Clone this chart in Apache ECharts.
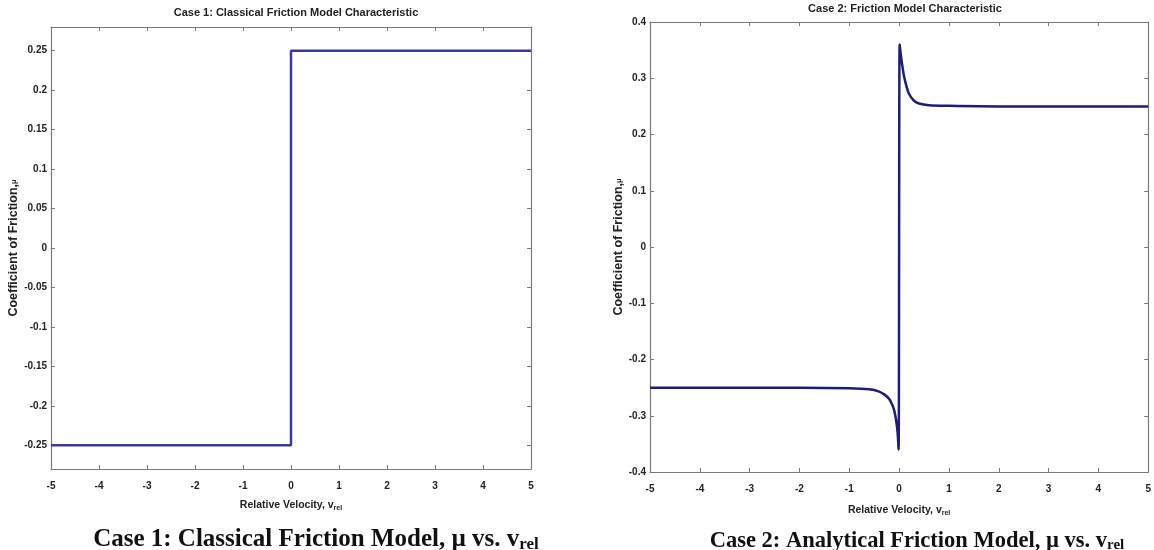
<!DOCTYPE html>
<html>
<head>
<meta charset="utf-8">
<script src="https://cdn.jsdelivr.net/npm/echarts@6/dist/echarts.min.js"></script>
<style>
html, body { margin: 0; padding: 0; background: #fff; }
#chart { width: 1154px; height: 550px; }
</style>
</head>
<body>
<div id="chart"></div>
<script>
// case 1: classical (Coulomb) friction, step at v_rel = 0
const vRel1 = [-5, 0, 0, 5]
const mu1 = [-0.25, -0.25, 0.25, 0.25]

// case 2: analytical friction model
const vRel2 = [-5, -2, -1, -0.6, -0.4, -0.3, -0.2, -0.14, -0.1, -0.06, -0.03, -0.01, 0.01, 0.03, 0.06, 0.1, 0.15, 0.2, 0.3, 0.4, 0.6, 1, 2, 5]
const mu2 = [-0.25, -0.25, -0.251, -0.253, -0.257, -0.262, -0.27, -0.28, -0.29, -0.308, -0.33, -0.36, 0.36, 0.345, 0.325, 0.303, 0.285, 0.272, 0.26, 0.255, 0.252, 0.251, 0.25, 0.25]

const yTicks1 = [-0.25, -0.2, -0.15, -0.1, -0.05, 0, 0.05, 0.1, 0.15, 0.2, 0.25]

const titles = ['Case 1: Classical Friction Model Characteristic', 'Case 2: Friction Model Characteristic']
const captions = ['Case 1: Classical Friction Model, µ vs. v{sub|rel}', 'Case 2: Analytical Friction Model, µ vs. v{sub|rel}']

const FONT = 'Liberation Sans'
const AXIS_COLOR = '#7a7a7a'
const LABEL_COLOR = '#222'

function fmt(v) {
  return String(Math.round(v * 100) / 100)
}

const pairs1 = vRel1.map((v, i) => [v, mu1[i]])
const pairs2 = vRel2.map((v, i) => [v, mu2[i]])

function xAxes(gridIndex, nameGap) {
  return [{
    gridIndex: gridIndex,
    type: 'value',
    min: -5,
    max: 5,
    interval: 1,
    position: 'bottom',
    name: 'Relative Velocity, v{sub|rel}',
    nameLocation: 'middle',
    nameGap: nameGap,
    nameTextStyle: {
      color: LABEL_COLOR,
      fontFamily: FONT,
      fontSize: 10.5,
      fontWeight: 'bold',
      rich: {
        sub: { fontSize: 7, fontWeight: 'bold', fontFamily: FONT, color: LABEL_COLOR, verticalAlign: 'bottom', padding: [6, 0, 0, 0] }
      }
    },
    axisLine: { show: true, onZero: false, lineStyle: { color: AXIS_COLOR, width: 1.2 } },
    axisTick: { show: true, inside: true, length: 4, lineStyle: { color: AXIS_COLOR } },
    axisLabel: { color: LABEL_COLOR, fontFamily: FONT, fontSize: 10, fontWeight: 'bold', margin: 12 },
    splitLine: { show: false }
  }, {
    gridIndex: gridIndex,
    type: 'value',
    min: -5,
    max: 5,
    interval: 1,
    position: 'top',
    axisLine: { show: true, onZero: false, lineStyle: { color: AXIS_COLOR, width: 1.2 } },
    axisTick: { show: true, inside: true, length: 4, lineStyle: { color: AXIS_COLOR } },
    axisLabel: { show: false },
    splitLine: { show: false }
  }]
}

function yAxes(gridIndex, min, max, tickOpts, nameGap) {
  const nameStyle = {
    color: LABEL_COLOR,
    fontFamily: FONT,
    fontSize: 12.5,
    fontWeight: 'bold',
    rich: {
      sub: { fontSize: 8, fontWeight: 'bold', fontFamily: FONT, color: LABEL_COLOR }
    }
  }
  return [Object.assign({
    gridIndex: gridIndex,
    type: 'value',
    min: min,
    max: max,
    position: 'left',
    name: 'Coefficient of Friction,{sub|µ}',
    nameLocation: 'middle',
    nameGap: nameGap,
    nameTextStyle: nameStyle,
    axisLine: { show: true, onZero: false, lineStyle: { color: AXIS_COLOR, width: 1.2 } },
    axisTick: Object.assign({ show: true, inside: true, length: 4, lineStyle: { color: AXIS_COLOR } }, tickOpts.tick),
    axisLabel: Object.assign({ color: LABEL_COLOR, fontFamily: FONT, fontSize: 10, fontWeight: 'bold', margin: 4, formatter: fmt }, tickOpts.label),
    splitLine: { show: false }
  }, tickOpts.axis), Object.assign({
    gridIndex: gridIndex,
    type: 'value',
    min: min,
    max: max,
    position: 'right',
    axisLine: { show: true, onZero: false, lineStyle: { color: AXIS_COLOR, width: 1.2 } },
    axisTick: Object.assign({ show: true, inside: true, length: 4, lineStyle: { color: AXIS_COLOR } }, tickOpts.tick),
    axisLabel: { show: false },
    splitLine: { show: false }
  }, tickOpts.axis)]
}

function captionStyle(size) {
  return {
    fontFamily: 'Liberation Serif', fontSize: size, fontWeight: 'bold', color: '#111',
    rich: { sub: { fontFamily: 'Liberation Serif', fontSize: Math.round(size * 0.66), fontWeight: 'bold', color: '#111', padding: [9, 0, 0, 0] } }
  }
}

const chart = echarts.init(document.getElementById('chart'))

const option = {
  backgroundColor: '#fff',
  animation: false,
  title: [{
    text: titles[0],
    left: 291,
    top: 2,
    textAlign: 'center',
    textStyle: { fontFamily: FONT, fontSize: 11, fontWeight: 'bold', color: LABEL_COLOR }
  }, {
    text: titles[1],
    left: 900,
    top: -2,
    textAlign: 'center',
    textStyle: { fontFamily: FONT, fontSize: 11, fontWeight: 'bold', color: LABEL_COLOR }
  }, {
    text: captions[0],
    left: 311,
    top: 522,
    textAlign: 'center',
    textStyle: captionStyle(25)
  }, {
    text: captions[1],
    left: 912,
    top: 524,
    textAlign: 'center',
    textStyle: captionStyle(22.5)
  }],
  grid: [
    { left: 51, top: 27, width: 480, height: 442, containLabel: false },
    { left: 650, top: 22, width: 501, height: 450, containLabel: false }
  ],
  xAxis: [].concat(xAxes(0, 30), xAxes(1, 32)),
  yAxis: [].concat(
    yAxes(0, -0.28, 0.28, {
      tick: { customValues: yTicks1 },
      label: { customValues: yTicks1 },
      axis: {}
    }, 29),
    yAxes(1, -0.4, 0.4, { tick: {}, label: {}, axis: { interval: 0.1 } }, 21)
  ),
  series: [{
    type: 'line',
    xAxisIndex: 0,
    yAxisIndex: 0,
    data: pairs1,
    showSymbol: false,
    lineStyle: { color: '#3a3a9c', width: 2.5 }
  }, {
    type: 'line',
    xAxisIndex: 2,
    yAxisIndex: 2,
    data: pairs2,
    showSymbol: false,
    smooth: 0.3,
    lineStyle: { color: '#1e1e78', width: 2.5 }
  }]
}

chart.setOption(option)
</script>
</body>
</html>
